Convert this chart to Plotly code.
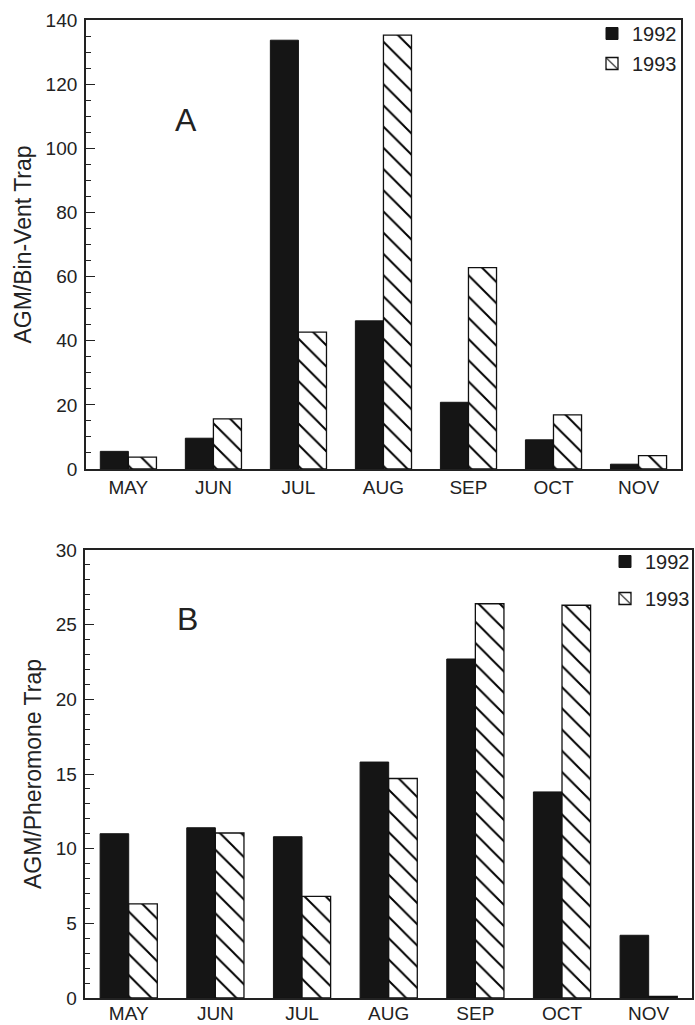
import plotly.graph_objects as go

months = ["MAY", "JUN", "JUL", "AUG", "SEP", "OCT", "NOV"]
binvent_1992 = [5.5, 9.6, 133.7, 46.2, 20.8, 9.1, 1.5]
binvent_1993 = [3.7, 15.6, 42.7, 135.3, 62.8, 16.9, 4.2]
pheromone_1992 = [11.0, 11.4, 10.8, 15.8, 22.7, 13.8, 4.2]
pheromone_1993 = [6.3, 11.05, 6.8, 14.7, 26.4, 26.3, 0.1]

FONT = "Liberation Sans"
TXT = "#222222"
W, H = 695, 1025


def px(x):
    return x / W


def py(y):
    return 1 - y / H


fig = go.Figure()

solid = dict(color="#151515", line=dict(color="#151515", width=1))
hatch = dict(color="white", line=dict(color="#111", width=1.3),
             pattern=dict(shape="\\", size=15, solidity=0.13, fgcolor="#000000",
                          fgopacity=1, bgcolor="white"))

fig.add_trace(go.Bar(x=months, y=binvent_1992, name="1992", marker=solid,
                     xaxis="x", yaxis="y", legend="legend", legendgroup="a1"))
fig.add_trace(go.Bar(x=months, y=binvent_1993, name="1993", marker=hatch,
                     xaxis="x", yaxis="y", legend="legend", legendgroup="a2"))
fig.add_trace(go.Bar(x=months, y=pheromone_1992, name="1992", marker=solid,
                     xaxis="x2", yaxis="y2", legend="legend2", legendgroup="b1"))
fig.add_trace(go.Bar(x=months, y=pheromone_1993, name="1993", marker=hatch,
                     xaxis="x2", yaxis="y2", legend="legend2", legendgroup="b2"))


def xax(domain, anchor, standoff):
    return dict(domain=domain, anchor=anchor, showline=True, mirror=True,
                linecolor="#222", linewidth=1.5, ticks="", ticklen=0, showgrid=False,
                automargin=False,
                tickfont=dict(family=FONT, size=19, color=TXT), ticklabelstandoff=standoff,
                range=[-0.5, 6.5])


def yax(domain, anchor, rng, dtick, minor, title):
    return dict(domain=domain, anchor=anchor, range=rng, dtick=dtick, showline=True,
                mirror=True, linecolor="#222", linewidth=1.5, ticks="inside",
                ticklen=9, tickwidth=1.2, tickcolor="#222", showgrid=False,
                zeroline=False, automargin=False,
                minor=dict(dtick=minor, ticks="inside", ticklen=5, tickwidth=1, tickcolor="#222"),
                tickfont=dict(family=FONT, size=19, color=TXT), ticklabelstandoff=3,
                title=dict(text=title, font=dict(family=FONT, size=23, color=TXT), standoff=8))


fig.update_layout(
    width=W, height=H, margin=dict(l=0, r=0, t=0, b=0),
    paper_bgcolor="white", plot_bgcolor="white",
    barmode="group", bargap=0.34, bargroupgap=0,
    xaxis=xax([px(86), px(682)], "y", 0),
    yaxis=yax([py(469), py(20)], "x", [0, 140], 20, 5, "AGM/Bin-Vent Trap"),
    xaxis2=xax([px(85.5), px(693)], "y2", -3),
    yaxis2=yax([py(998), py(550)], "x2", [0, 30], 5, 1, "AGM/Pheromone Trap"),
    legend=dict(x=px(592), y=py(14), xanchor="left", yanchor="top",
                bgcolor="rgba(0,0,0,0)", font=dict(family=FONT, size=20, color=TXT),
                itemwidth=30, tracegroupgap=1, traceorder="grouped"),
    legend2=dict(x=px(606), y=py(542), xanchor="left", yanchor="top",
                 bgcolor="rgba(0,0,0,0)", font=dict(family=FONT, size=20, color=TXT),
                 itemwidth=30, tracegroupgap=8, traceorder="grouped"),
    annotations=[
        dict(text="A", x=px(186), y=py(120), xref="paper", yref="paper",
             xanchor="center", yanchor="middle",
             showarrow=False, font=dict(family=FONT, size=32, color=TXT)),
        dict(text="B", x=px(188), y=py(619), xref="paper", yref="paper",
             xanchor="center", yanchor="middle",
             showarrow=False, font=dict(family=FONT, size=32, color=TXT)),
    ],
)

fig.write_html(
    "out.html",
    config={"displayModeBar": False},
    post_script="document.body.style.margin='0';document.body.style.overflow='hidden';",
)
